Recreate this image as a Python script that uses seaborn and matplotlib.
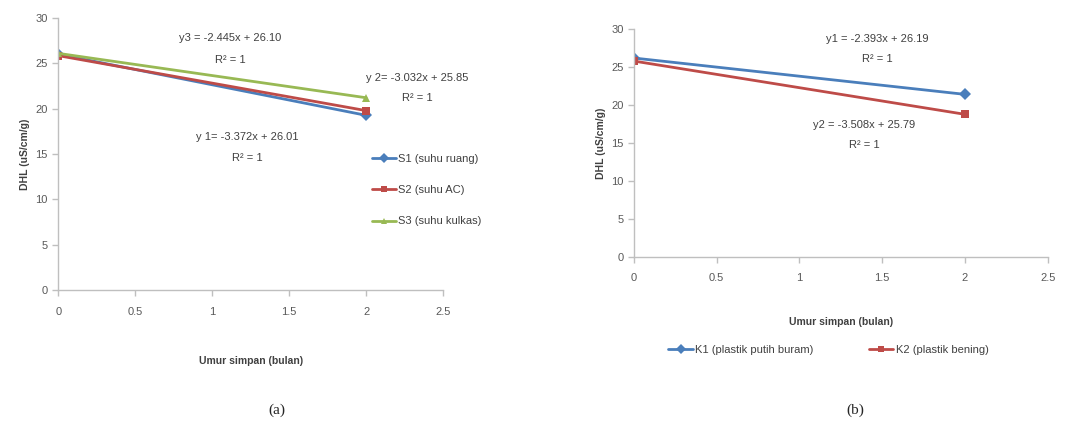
import pandas as pd
import matplotlib.pyplot as plt
import seaborn as sns

# storage time (months)
umur = [0, 2]

# (a) storage temperature
s1_ruang = [26.01, 19.27]
s2_ac = [25.85, 19.79]
s3_kulkas = [26.10, 21.21]
labels_a = ["S1 (suhu ruang)", "S2 (suhu AC)", "S3 (suhu kulkas)"]

# (b) packaging
k1_buram = [26.19, 21.40]
k2_bening = [25.79, 18.77]
labels_b = ["K1 (plastik putih buram)", "K2 (plastik bening)"]

eq_a = ["y3 = -2.445x + 26.10", "y 2= -3.032x + 25.85", "y 1= -3.372x + 26.01"]
eq_b = ["y1 = -2.393x + 26.19", "y2 = -3.508x + 25.79"]

blue, red, green = "#4A7EBB", "#BE4B48", "#98B954"

sns.set_style("ticks")
plt.rcParams["font.family"] = ["Liberation Sans", "DejaVu Sans"]

df_a = pd.DataFrame({
    "umur": umur * 3,
    "dhl": s1_ruang + s2_ac + s3_kulkas,
    "seri": [l for l in labels_a for _ in umur],
})
df_b = pd.DataFrame({
    "umur": umur * 2,
    "dhl": k1_buram + k2_bening,
    "seri": [l for l in labels_b for _ in umur],
})

fig = plt.figure(figsize=(10.78, 4.28), dpi=100)
ax1 = fig.add_axes([0.054, 0.322, 0.357, 0.636])
ax2 = fig.add_axes([0.588, 0.400, 0.384, 0.532])

tick_col = "#595959"
spine_col = "#BFBFBF"
txt = "#404040"

def style_axis(ax):
    ax.set_xlim(0, 2.5)
    ax.set_ylim(0, 30)
    ax.set_xticks([0, 0.5, 1, 1.5, 2, 2.5])
    ax.set_xticklabels(["0", "0.5", "1", "1.5", "2", "2.5"])
    ax.set_yticks(range(0, 31, 5))
    for s in ["top", "right"]:
        ax.spines[s].set_visible(False)
    for s in ["left", "bottom"]:
        ax.spines[s].set_color(spine_col)
        ax.spines[s].set_linewidth(1.0)
    ax.tick_params(colors=spine_col, labelcolor=tick_col, labelsize=8, length=4, width=1)
    ax.tick_params(axis="x", pad=8)
    ax.set_ylabel("DHL (uS/cm/g)", fontsize=7.5, fontweight="bold", color=txt)

# (a)
sns.lineplot(data=df_a, x="umur", y="dhl", hue="seri", style="seri",
             palette=[blue, red, green], markers=["D", "s", "^"], dashes=False,
             markersize=6, linewidth=2, markeredgewidth=0, ax=ax1)
style_axis(ax1)
ax1.set_xlabel("Umur simpan (bulan)", fontsize=7.5, fontweight="bold", color=txt, labelpad=28)
ax1.text(1.12, 27.8, eq_a[0], ha="center", va="center", fontsize=8, color=txt)
ax1.text(1.12, 25.4, "R² = 1", ha="center", va="center", fontsize=8, color=txt)
ax1.text(2.33, 23.4, eq_a[1], ha="center", va="center", fontsize=8, color=txt)
ax1.text(2.33, 21.2, "R² = 1", ha="center", va="center", fontsize=8, color=txt)
ax1.text(1.23, 16.9, eq_a[2], ha="center", va="center", fontsize=8, color=txt)
ax1.text(1.23, 14.6, "R² = 1", ha="center", va="center", fontsize=8, color=txt)
ax1.legend(loc="upper left", bbox_to_anchor=(0.8, 0.52), frameon=False, fontsize=8,
           labelspacing=1.9, handlelength=2.2, handletextpad=0.2, borderpad=0,
           labelcolor=txt, markerscale=0.8)

# (b)
sns.lineplot(data=df_b, x="umur", y="dhl", hue="seri", style="seri",
             palette=[blue, red], markers=["D", "s"], dashes=False,
             markersize=6, linewidth=2, markeredgewidth=0, ax=ax2)
style_axis(ax2)
ax2.set_xlabel("Umur simpan (bulan)", fontsize=7.5, fontweight="bold", color=txt, labelpad=24)
ax2.text(1.47, 28.7, eq_b[0], ha="center", va="center", fontsize=8, color=txt)
ax2.text(1.47, 26.1, "R² = 1", ha="center", va="center", fontsize=8, color=txt)
ax2.text(1.39, 17.4, eq_b[1], ha="center", va="center", fontsize=8, color=txt)
ax2.text(1.39, 14.7, "R² = 1", ha="center", va="center", fontsize=8, color=txt)
ax2.legend(loc="center", bbox_to_anchor=(0.47, -0.41), ncol=2, frameon=False, fontsize=8,
           columnspacing=5, handlelength=2.2, handletextpad=0.2, labelcolor=txt,
           markerscale=0.8)

fig.text(277 / 1078, 1 - 410 / 428, "(a)", ha="center", va="center",
         fontsize=11, family="Liberation Serif")
fig.text(855 / 1078, 1 - 410 / 428, "(b)", ha="center", va="center",
         fontsize=11, family="Liberation Serif")

fig.savefig("out.png", dpi=100)
